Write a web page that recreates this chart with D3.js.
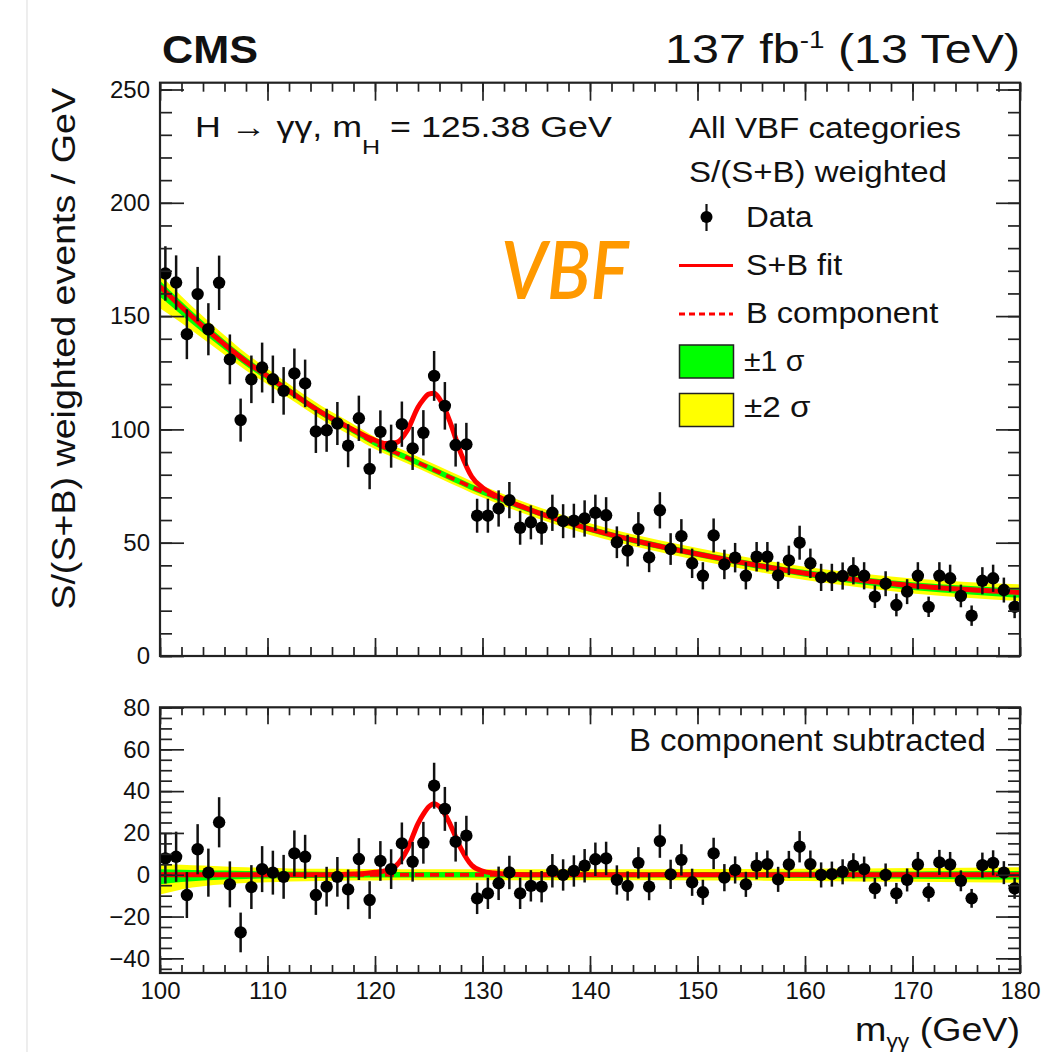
<!DOCTYPE html>
<html>
<head>
<meta charset="utf-8">
<script src="https://cdn.jsdelivr.net/npm/d3@7"></script>
<style>
  body { margin: 0; background: #fff; }
  svg { display: block; }
  text { font-family: "Liberation Sans", Arial, Helvetica, sans-serif; fill: #111; }
</style>
</head>
<body>
<div id="container"></div>
<script>
/**
 * DATA
 * */
// diphoton mass bin centres, GeV
const massBins = [100.5,101.5,102.5,103.5,104.5,105.5,106.5,107.5,108.5,109.5,
  110.5,111.5,112.5,113.5,114.5,115.5,116.5,117.5,118.5,119.5,
  120.5,121.5,122.5,123.5,124.5,125.5,126.5,127.5,128.5,129.5,
  130.5,131.5,132.5,133.5,134.5,135.5,136.5,137.5,138.5,139.5,
  140.5,141.5,142.5,143.5,144.5,145.5,146.5,147.5,148.5,149.5,
  150.5,151.5,152.5,153.5,154.5,155.5,156.5,157.5,158.5,159.5,
  160.5,161.5,162.5,163.5,164.5,165.5,166.5,167.5,168.5,169.5,
  170.5,171.5,172.5,173.5,174.5,175.5,176.5,177.5,178.5,179.5];

// S/(S+B) weighted events / GeV
const dataEvents = [168.8,164.8,142.0,159.7,144.2,164.7,130.9,104.1,122.1,127.3,
  122.1,117.0,124.7,120.3,99.1,99.6,102.6,92.8,104.9,82.6,
  98.9,92.6,102.3,91.6,98.5,123.6,110.4,93.1,93.4,61.9,
  61.9,65.1,68.8,56.6,59.0,56.6,63.2,59.5,59.7,60.7,
  63.2,62.1,50.2,46.5,56.0,43.5,64.3,47.2,52.9,40.9,
  35.4,53.2,40.4,43.4,35.4,43.8,43.8,35.6,42.2,50.0,
  40.9,34.7,34.7,35.3,37.6,35.4,26.2,31.9,22.5,28.4,
  35.4,21.7,35.4,34.3,26.5,17.8,33.2,34.3,29.1,21.7];

// statistical error (half length of the bars)
const dataErrors = [12,12,11,12,11.5,12,11,9.5,10.5,11,
  10.5,10.5,11,10.5,9.5,9.5,9.5,9.5,10,9,
  9.5,9.5,10,9.5,10,11,10.5,9.5,9.5,7.5,
  7.5,8,8,7.5,7.5,7.5,8,7.5,7.5,8,
  8,8,7,7,7.5,6.5,8,7,7.5,6.5,
  6,7.5,6.5,6.5,6,6.5,6.5,6,6.5,7.5,
  6.5,6,6,6,6,6,5,5.5,5,5.5,
  6,4.5,6,6,5,4.5,6,6,5.5,5];

// data minus B component (lower panel)
const residuals = [7.8,8.6,-9.7,12.2,1,25.1,-4.6,-27.6,-5.9,2.7,
  1,-1,10.2,8.6,-9.7,-5.7,-1,-7,7.5,-12.1,
  6.6,2.7,15,6.2,15.3,42.6,31.5,15.8,18.7,-11.3,
  -8.9,-4.1,1.1,-8.9,-5.3,-5.7,1.9,-0.1,1.8,4.3,
  7.4,7.8,-2.5,-5.4,5.7,-5.7,16.1,0.2,7.1,-3.6,
  -8.4,10.2,-1.4,2.3,-4.6,4.3,5.1,-2.2,4.9,13.4,
  5.1,-0.1,0.3,1.4,4.3,2.7,-6.5,-0.1,-8.9,-2.5,
  4.9,-8.4,5.9,4.9,-2.9,-11.3,4.6,5.7,1,-6.5];

// B component of the fit, sampled
const bkgMass = [100,102,104,106,108,110,112,115,118,120,123,126,130,135,140,145,150,155,160,165,170,175,180];
const bkgFit  = [163,154,145.5,137.5,130,123.5,117,107.5,99.5,94,87.5,81,72.5,63.5,56,50,45,40.5,36.5,33.5,31,29.3,28];
// uncertainty band edges around B (same mass grid)
const band1Lo = [-4.5,-3.5,-2.8,-2.3,-2,-1.8,-1.6,-1.5,-1.4,-1.3,-1.3,-1.3,-1.3,-1.3,-1.3,-1.3,-1.3,-1.4,-1.5,-1.7,-1.9,-2.1,-2.3];
const band1Hi = [2.6,2.4,2.2,2,1.8,1.6,1.5,1.4,1.3,1.3,1.3,1.3,1.3,1.3,1.3,1.3,1.3,1.3,1.4,1.5,1.6,1.7,1.8];
const band2Lo = [-9.5,-7,-5.5,-4.6,-4,-3.6,-3.2,-3,-2.8,-2.7,-2.6,-2.6,-2.6,-2.6,-2.6,-2.6,-2.7,-2.8,-3,-3.2,-3.4,-3.6,-3.8];
const band2Hi = [5.2,4.8,4.4,4,3.6,3.3,3,2.9,2.8,2.7,2.6,2.6,2.6,2.6,2.6,2.6,2.7,2.8,2.9,3,3.2,3.4,3.6];

// S+B fit, sampled
const fitMass = [100,102,104,106,108,110,112,115,116,118,119,120,121,122,123,124,124.5,125,125.5,126,126.5,127,128,129,130,131,132,134,135,140,145,150,155,160,165,170,175,180];
const fitSB   = [163,154,145.5,137.5,130,123.5,117,107.5,104.8,99.8,97.3,95.2,93.8,94.2,99.5,109.8,113.2,115.6,116,113.5,109,103,89.3,79.1,74.3,71.4,69.1,65.3,63.5,56,50,45,40.5,36.5,33.5,31,29.3,28];

// signal component only (lower panel)
const sigMass = [100,116,118,119,120,121,122,123,124,124.5,125,125.5,126,126.5,127,128,129,130,131,132,134,180];
const sigFit  = [0,0,0.3,0.6,1.2,2,4.5,12,24.5,29,32.5,34,32.5,29,24,12.5,4.5,1.8,0.8,0.3,0,0];

// tick labels
const xTicks = [100,110,120,130,140,150,160,170,180];
const yTopTicks = [0,50,100,150,200,250];
const yBotTicks = [-40,-20,0,20,40,60,80];

/**
 * CONSTANTS AND GLOBALS
 * */
const width = 1050, height = 1052;
const RED = "#ff0000", GREEN = "#00ff00", YELLOW = "#ffff00";

const svg = d3.select("#container")
  .append("svg")
  .attr("width", width)
  .attr("height", height);

const x = d3.scaleLinear().domain([100, 180]).range([160, 1020]);
const yTop = d3.scaleLinear().domain([0, 253]).range([656, 82.7]);
const yBot = d3.scaleLinear().domain([-47, 80.1]).range([973, 707.3]);

// faint page edge line seen on the left of the original
svg.append("line").attr("x1", 27).attr("x2", 27).attr("y1", 0).attr("y2", height)
  .attr("stroke", "#e2e2e2").attr("stroke-width", 1.2);

// text helper: draws text and stretches it to a target width
function label(parent, x0, y0, size, w, anchor, build, rotate) {
  const g = parent.append("g")
    .attr("transform", `translate(${x0},${y0})` + (rotate ? ` rotate(${rotate})` : ""));
  const t = g.append("text").attr("text-anchor", anchor || "start").style("font-size", size + "px");
  if (typeof build === "string") t.text(build); else build(t);
  return t;
}
function fit(t, w) {
  const bw = t.node().getBBox().width;
  t.attr("transform", `scale(${w / bw},1)`);
  return t;
}

/**
 * PANELS
 * */
function panel(yScale, id) {
  const [yb, yt] = yScale.range();
  const g = svg.append("g");
  g.append("clipPath").attr("id", id)
    .append("rect").attr("x", 160).attr("y", yt).attr("width", 860).attr("height", yb - yt);
  const plot = g.append("g").attr("clip-path", `url(#${id})`);
  return { g, plot, yb, yt };
}

function drawBands(plot, yScale, center) {
  const pts = bkgMass.map((m, i) => ({ m, c: center ? bkgFit[i] : 0, i }));
  const area = (lo, hi) => d3.area()
    .x(d => x(d.m))
    .y0(d => yScale(d.c + lo[d.i]))
    .y1(d => yScale(d.c + hi[d.i]))
    .curve(d3.curveMonotoneX);
  plot.append("path").datum(pts).attr("d", area(band2Lo, band2Hi)).attr("fill", YELLOW);
  plot.append("path").datum(pts).attr("d", area(band1Lo, band1Hi)).attr("fill", GREEN);
}

function drawData(plot, yScale, values) {
  const pts = massBins.map((m, i) => ({ m, v: values[i], e: dataErrors[i] }));
  plot.append("g").selectAll("line").data(pts).join("line")
    .attr("x1", d => x(d.m)).attr("x2", d => x(d.m))
    .attr("y1", d => yScale(d.v - d.e)).attr("y2", d => yScale(d.v + d.e))
    .attr("stroke", "#111").attr("stroke-width", 2.5);
  plot.append("g").selectAll("circle").data(pts).join("circle")
    .attr("cx", d => x(d.m)).attr("cy", d => yScale(d.v)).attr("r", 6.2)
    .attr("fill", "#000");
}

function drawFrame(p, yScale, yMajor, yMinor, xMaj, xMin, yMaj, yMin) {
  const xMinor = d3.range(100, 181, 2);
  const clean = s => s.call(a => a.select(".domain").remove())
    .selectAll("line").attr("stroke", "#222").attr("stroke-width", 1.7);
  // bottom / top x ticks (inside)
  p.g.append("g").attr("transform", `translate(0,${p.yb})`)
    .call(d3.axisBottom(x).tickValues(xMinor).tickSize(-xMin).tickFormat("")).call(clean);
  p.g.append("g").attr("transform", `translate(0,${p.yb})`)
    .call(d3.axisBottom(x).tickValues(xTicks).tickSize(-xMaj).tickFormat("")).call(clean);
  p.g.append("g").attr("transform", `translate(0,${p.yt})`)
    .call(d3.axisTop(x).tickValues(xMinor).tickSize(-xMin).tickFormat("")).call(clean);
  p.g.append("g").attr("transform", `translate(0,${p.yt})`)
    .call(d3.axisTop(x).tickValues(xTicks).tickSize(-xMaj).tickFormat("")).call(clean);
  // left / right y ticks
  p.g.append("g").attr("transform", "translate(160,0)")
    .call(d3.axisLeft(yScale).tickValues(yMinor).tickSize(-yMin).tickFormat("")).call(clean);
  p.g.append("g").attr("transform", "translate(160,0)")
    .call(d3.axisLeft(yScale).tickValues(yMajor).tickSize(-yMaj).tickFormat("")).call(clean);
  p.g.append("g").attr("transform", "translate(1020,0)")
    .call(d3.axisRight(yScale).tickValues(yMinor).tickSize(-yMin).tickFormat("")).call(clean);
  p.g.append("g").attr("transform", "translate(1020,0)")
    .call(d3.axisRight(yScale).tickValues(yMajor).tickSize(-yMaj).tickFormat("")).call(clean);
  // frame
  p.g.append("rect").attr("x", 160).attr("y", p.yt).attr("width", 860).attr("height", p.yb - p.yt)
    .attr("fill", "none").attr("stroke", "#222").attr("stroke-width", 2.2);
  // y tick labels
  p.g.append("g").attr("transform", "translate(160,0)")
    .call(d3.axisLeft(yScale).tickValues(yMajor).tickSize(0).tickPadding(10))
    .call(a => a.select(".domain").remove())
    .selectAll("text").style("font-size", "24px").style("font-family", "'Liberation Sans', Arial, sans-serif")
    .attr("fill", "#111");
}

/* ---------- top panel ---------- */
const topPanel = panel(yTop, "clipTop");
drawBands(topPanel.plot, yTop, true);

const bLine = d3.line().x((d, i) => x(bkgMass[i])).y(d => yTop(d)).curve(d3.curveMonotoneX);
topPanel.plot.append("path").datum(bkgFit).attr("d", bLine)
  .attr("fill", "none").attr("stroke", RED).attr("stroke-width", 4).attr("stroke-dasharray", "9,6");
const sbLine = d3.line().x((d, i) => x(fitMass[i])).y(d => yTop(d)).curve(d3.curveMonotoneX);
topPanel.plot.append("path").datum(fitSB).attr("d", sbLine)
  .attr("fill", "none").attr("stroke", RED).attr("stroke-width", 5);

drawData(topPanel.plot, yTop, dataEvents);
drawFrame(topPanel, yTop, yTopTicks, d3.range(0, 251, 10), 18, 9, 24, 12);

/* ---------- bottom panel ---------- */
const botPanel = panel(yBot, "clipBot");
drawBands(botPanel.plot, yBot, false);
botPanel.plot.append("line").attr("x1", x(100)).attr("x2", x(180)).attr("y1", yBot(0)).attr("y2", yBot(0))
  .attr("stroke", RED).attr("stroke-width", 4).attr("stroke-dasharray", "9,6");
const sLine = d3.line().x((d, i) => x(sigMass[i])).y(d => yBot(d)).curve(d3.curveMonotoneX);
botPanel.plot.append("path").datum(sigFit).attr("d", sLine)
  .attr("fill", "none").attr("stroke", RED).attr("stroke-width", 5);

drawData(botPanel.plot, yBot, residuals);
drawFrame(botPanel, yBot, yBotTicks, d3.range(-45, 81, 5), 17, 8, 24, 12);

// x tick labels under the lower panel
svg.append("g").attr("transform", "translate(0,973)")
  .call(d3.axisBottom(x).tickValues(xTicks).tickSize(0).tickPadding(9))
  .call(a => a.select(".domain").remove())
  .selectAll("text").style("font-size", "24px").style("font-family", "'Liberation Sans', Arial, sans-serif")
  .attr("fill", "#111");

/**
 * TEXT AND LEGEND
 * */
fit(label(svg, 162, 63, 39, null, "start", "CMS").style("font-weight", "bold"), 96);
fit(label(svg, 1020, 63, 40, null, "end", t => {
  t.append("tspan").text("137 fb");
  t.append("tspan").attr("dy", -15).style("font-size", "23px").text("-1");
  t.append("tspan").attr("dy", 15).text(" (13 TeV)");
}), 355);

fit(label(svg, 195, 137, 30, null, "start", t => {
  t.append("tspan").text("H \u2192 \u03b3\u03b3, m");
  t.append("tspan").attr("dy", 17).style("font-size", "21px").text("H");
  t.append("tspan").attr("dy", -17).text(" = 125.38 GeV");
}), 417);

fit(label(svg, 689, 138, 30, null, "start", "All VBF categories"), 272);
fit(label(svg, 689, 182, 30, null, "start", "S/(S+B) weighted"), 258);

const legendRows = [
  { text: "Data", y: 227, w: 67 },
  { text: "S+B fit", y: 275, w: 97 },
  { text: "B component", y: 323, w: 193 },
  { text: "\u00b11 \u03c3", y: 371, w: 61 },
  { text: "\u00b12 \u03c3", y: 417, w: 67 }
];
legendRows.forEach(r => fit(label(svg, r.text.startsWith("\u00b1") ? 744 : 746, r.y, 30, null, "start", r.text), r.w));

const leg = svg.append("g");
leg.append("line").attr("x1", 706.5).attr("x2", 706.5).attr("y1", 204).attr("y2", 231)
  .attr("stroke", "#111").attr("stroke-width", 2.2);
leg.append("circle").attr("cx", 706.5).attr("cy", 217).attr("r", 6).attr("fill", "#000");
leg.append("line").attr("x1", 679).attr("x2", 733).attr("y1", 265.5).attr("y2", 265.5)
  .attr("stroke", RED).attr("stroke-width", 3);
leg.append("line").attr("x1", 679).attr("x2", 733).attr("y1", 314).attr("y2", 314)
  .attr("stroke", RED).attr("stroke-width", 3).attr("stroke-dasharray", "6,4");
leg.append("rect").attr("x", 679.5).attr("y", 345).attr("width", 54).attr("height", 33)
  .attr("fill", GREEN).attr("stroke", "#222").attr("stroke-width", 1.5);
leg.append("rect").attr("x", 679.5).attr("y", 393.5).attr("width", 54).attr("height", 33)
  .attr("fill", YELLOW).attr("stroke", "#222").attr("stroke-width", 1.5);

fit(label(svg, 501, 299, 80, null, "start", "VBF")
  .style("font-family", "Lato, 'Open Sans', sans-serif")
  .style("font-style", "italic").style("font-weight", 600).style("fill", "#ff9900"), 129);

fit(label(svg, 629, 751, 31, null, "start", "B component subtracted"), 357);

// axis titles
fit(label(svg, 75, 88, 33, null, "end", "S/(S+B) weighted events / GeV", -90), 522);
fit(label(svg, 1020, 1041, 33, null, "end", t => {
  t.append("tspan").text("m");
  t.append("tspan").attr("dy", 7).style("font-size", "20px").text("\u03b3\u03b3");
  t.append("tspan").attr("dy", -7).text(" (GeV)");
}), 165);
</script>
</body>
</html>
